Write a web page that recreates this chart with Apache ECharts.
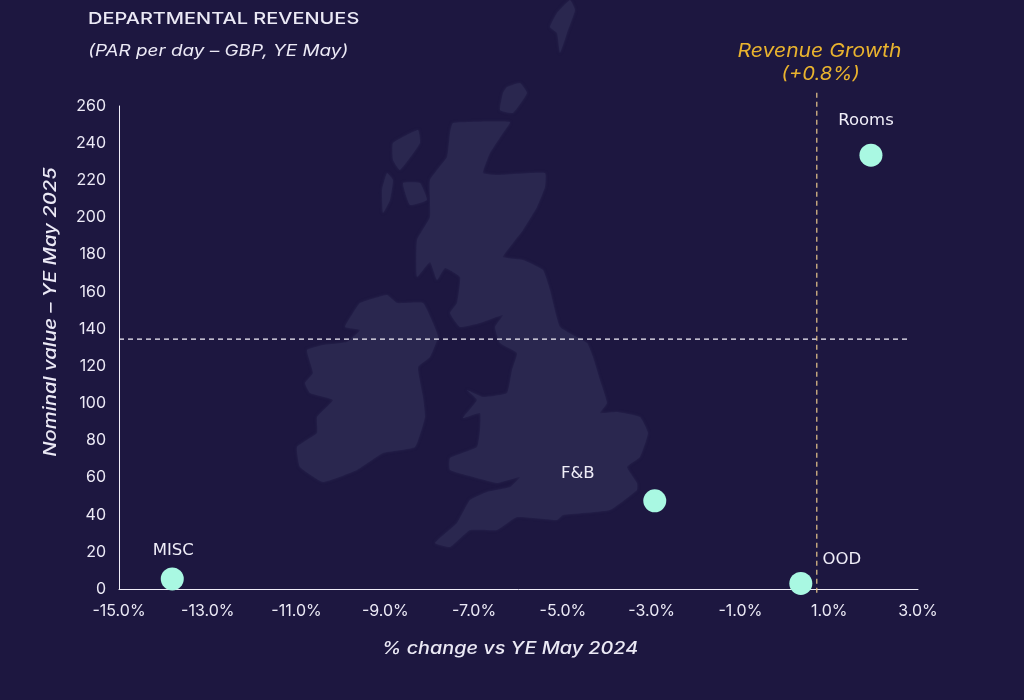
<!DOCTYPE html>
<html><head><meta charset="utf-8">
<style>html,body{margin:0;padding:0;background:#1d1740}#c{width:1024px;height:700px}</style>
<script src="https://cdn.jsdelivr.net/npm/echarts@6/dist/echarts.min.js"></script>
</head><body><div id="c"></div>
<script>
const names = ['Rooms','F&B','MISC','OOD'];
const changePct = [1.94,-2.93,-13.8,0.36];
const nominal = [233.5,47.5,5.4,3];
const xTicks = [-15,3,2];
const yTicks = [0,260,20];
const growthX = 0.72;
const avgY = 134.5;
const wideFont = '"DejaVu Sans"';
const labelOffsets = {'Rooms':[-5,-35],'F&B':[-77,-27],'MISC':[1,-28],'OOD':[41,-24]};

// decorative background map (pixel outline, not data)
const mapColor = '#2a274f';
const gb = [[453,123],[510,122],[503,133],[490,153],[483,173],[497,175],[545,173],[545,187],[537,207],[523,230],[513,243],[503,257],[523,260],[543,270],[550,290],[560,327],[587,343],[593,357],[600,380],[607,403],[600,413],[617,412],[640,417],[648,433],[640,457],[627,467],[637,483],[637,490],[610,510],[563,515],[557,520],[517,517],[497,530],[470,530],[450,547],[435,543],[457,523],[470,500],[487,492],[510,487],[520,477],[497,483],[477,478],[450,470],[450,458],[477,447],[480,430],[480,413],[463,418],[477,400],[467,390],[483,397],[507,393],[512,370],[517,353],[500,343],[495,327],[503,315],[480,323],[460,327],[450,313],[457,303],[460,277],[445,268],[437,280],[430,262],[417,277],[417,240],[430,217],[430,180],[447,157],[450,133]];
const ireland = [[360,303],[387,295],[397,303],[423,303],[433,323],[438,337],[430,357],[418,367],[423,397],[425,417],[415,447],[383,453],[357,470],[323,482],[300,467],[297,447],[317,433],[317,417],[333,400],[310,393],[305,383],[313,373],[307,350],[323,345],[347,342],[360,330],[345,327],[353,313]];
const islands = [
 [[418,130],[420,143],[400,170],[393,160],[393,143]],
 [[387,173],[393,180],[390,200],[383,213],[382,190]],
 [[403,183],[420,183],[427,200],[410,205]],
 [[503,93],[507,87],[520,83],[527,93],[513,113],[500,110]],
 [[570,0],[575,10],[567,33],[560,53],[557,33],[550,27],[557,13]]
];
const polys = [gb, ireland].concat(islands);

function txt(text,x,y,font,fill,scaleX,align,rotation){
  return {type:'text',x:x,y:y,scaleX:scaleX,rotation:rotation||0,silent:true,
    style:{text:text,x:0,y:0,fill:fill,font:font,align:align,verticalAlign:'middle'}};
}
const ink='#ebe9f5', gold='#e9b32e';

const chart = echarts.init(document.getElementById('c'));
chart.setOption({
  backgroundColor:'#1d1740',
  animation:false,
  textStyle:{fontFamily:'Inter'},
  graphic:[
    ...polys.map(p=>({type:'polygon',z:-10,silent:true,shape:{points:p,smooth:0.12},style:{fill:mapColor,shadowBlur:3,shadowColor:mapColor}})),
    txt('DEPARTMENTAL REVENUES',88,19,'500 16.5px Inter',ink,1.21,'left'),
    txt('(PAR per day – GBP, YE May)',88,51,'italic 16px Inter',ink,1.18,'left'),
    txt('Revenue Growth',819.5,51,'italic 19px Inter',gold,1.11,'center'),
    txt('(+0.8%)',820.5,75,'italic 18px Inter',gold,1.13,'center'),
    txt('% change vs YE May 2024',510,649,'italic 500 17px Inter',ink,1.165,'center'),
    txt('Nominal value – YE May 2025',51,312,'italic 500 17px Inter',ink,1.19,'center',Math.PI/2)
  ],
  grid:{left:119,right:106,top:106,bottom:111},
  xAxis:{type:'value',min:xTicks[0],max:xTicks[1],interval:xTicks[2],splitLine:{show:false},
    axisLine:{show:true,onZero:false,lineStyle:{color:'#f0eef8',width:1}},axisTick:{show:false},
    axisLabel:{color:ink,fontSize:16,margin:14,formatter:v=>v.toFixed(1)+'%'}},
  yAxis:{type:'value',min:yTicks[0],max:yTicks[1],interval:yTicks[2],splitLine:{show:false},
    axisLine:{show:true,onZero:false,lineStyle:{color:'#f0eef8',width:1}},axisTick:{show:false},
    axisLabel:{color:ink,fontSize:16,margin:13}},
  series:[
    {type:'line',clip:false,showSymbol:false,silent:true,z:2,data:[[xTicks[0],avgY],[2.77,avgY]],
     lineStyle:{color:'#f3f1fa',width:1.2,type:[5,4]}},
    {type:'line',clip:false,showSymbol:false,silent:true,z:2,data:[[growthX,-2],[growthX,268.5]],
     lineStyle:{color:'#e8c68c',width:1.2,type:[5,4]}},
    {type:'scatter',symbolSize:23,z:5,clip:false,
     itemStyle:{color:'#a9f8e2',opacity:1},
     data:names.map((n,i)=>({name:n,value:[changePct[i],nominal[i]],
       label:{show:true,position:'inside',offset:labelOffsets[n],formatter:'{b}',color:'#f0eef8',fontSize:16.5,fontFamily:wideFont}}))}
  ]
});
</script></body></html>
